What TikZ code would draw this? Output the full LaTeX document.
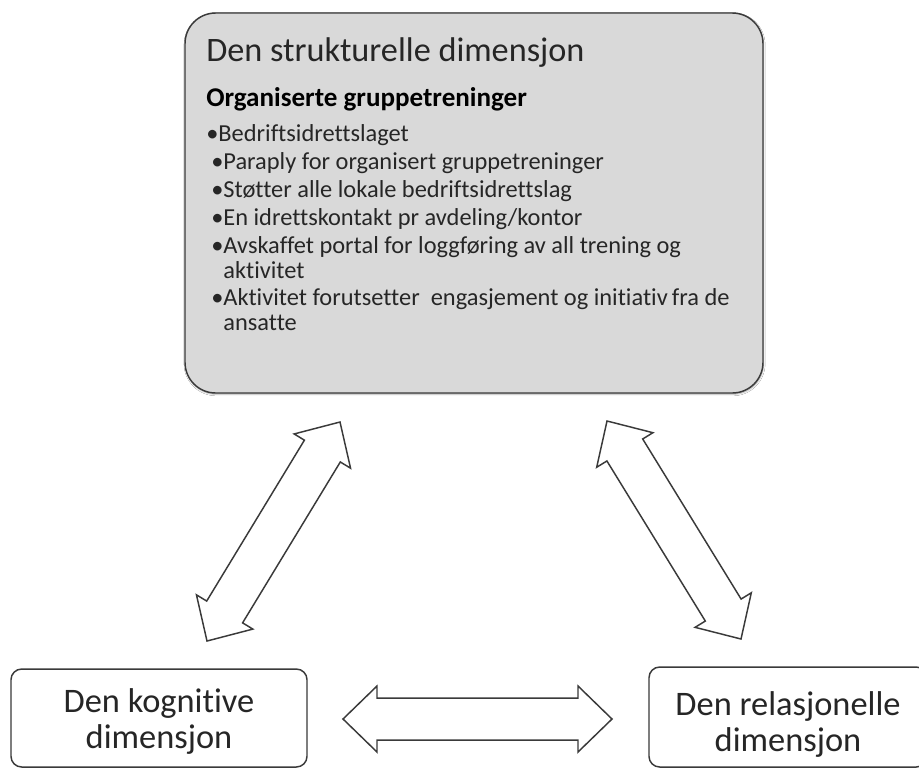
\documentclass[tikz,border=0pt]{standalone}
\usepackage{fontspec}
\setmainfont{Carlito}[Ligatures=NoCommon]
\usetikzlibrary{calc,shadows.blur}

\definecolor{boxgray}{HTML}{D9D9D9}
\definecolor{edge}{HTML}{3A3A3A}
\definecolor{ink}{HTML}{262626}

\tikzset{
  px/.style={x=0.75pt,y=-0.75pt},
  panel/.style={draw=edge, line width=1.1pt, fill=boxgray, rounded corners=23pt,
    inner sep=0pt, minimum width=433.5pt, minimum height=285pt,
    blur shadow={shadow xshift=0.4pt, shadow yshift=-0.9pt, shadow blur radius=1.2pt, shadow opacity=35}},
  dimbox/.style={draw=edge, line width=1.1pt, fill=white, rounded corners=8pt, inner sep=0pt},
  dimtext/.style={anchor=base, inner sep=0pt, text=ink, font=\fontsize{25.8pt}{28pt}\selectfont},
  titletext/.style={anchor=base west, inner sep=0pt, text=ink, font=\fontsize{25.7pt}{28pt}\selectfont},
  headtext/.style={anchor=base west, inner sep=0pt, text=black, font=\fontsize{20.3pt}{24pt}\selectfont\bfseries},
  itemtext/.style={anchor=base west, inner sep=0pt, text=ink, font=\fontsize{18.3pt}{22pt}\selectfont},
  blockarrow/.style={draw=edge, line width=1.1pt, fill=white, line join=miter},
}

% hollow double-headed block arrow between two named points
\newcommand\dblarrow[2]{%
  \coordinate (#1-b) at ($(#1)!25.5pt!(#2)$);
  \coordinate (#2-b) at ($(#2)!25.5pt!(#1)$);
  \draw[blockarrow] (#1)
    -- ($(#1-b)!24.75pt!90:(#2)$) -- ($(#1-b)!15.75pt!90:(#2)$)
    -- ($(#2-b)!15.75pt!-90:(#1)$) -- ($(#2-b)!24.75pt!-90:(#1)$)
    -- (#2)
    -- ($(#2-b)!24.75pt!90:(#1)$) -- ($(#2-b)!15.75pt!90:(#1)$)
    -- ($(#1-b)!15.75pt!-90:(#2)$) -- ($(#1-b)!24.75pt!-90:(#2)$)
    -- cycle;
}

\begin{document}
\begin{tikzpicture}[px]
  \useasboundingbox[fill=white] (0,0) rectangle (919,769);

  % structural dimension panel
  \node[panel] (struct) at (474,203) {};
  \node[titletext] (title) at (206,61) {Den strukturelle dimensjon};
  \node[headtext] (head) at (206,106) {Organiserte gruppetreninger};
  \node[itemtext] (i0) at (206,141) {•Bedriftsidrettslaget};
  \node[itemtext] (i1) at (211,169) {•Paraply for organisert gruppetreninger};
  \node[itemtext] (i2) at (211,197) {•Støtter alle lokale bedriftsidrettslag};
  \node[itemtext] (i3) at (211,225) {•En idrettskontakt pr avdeling/kontor};
  \node[itemtext] (i4) at (211,253) {•Avskaffet portal for loggføring av all trening og};
  \node[itemtext] (i4b) at (211,278) {\phantom{•}aktivitet};
  \node[itemtext] (i5) at (211,305) {•Aktivitet forutsetter\ \ engasjement og initiativ\kern-1pt\ fra de};
  \node[itemtext] (i5b) at (211,330) {\phantom{•}ansatte};

  % lower dimension boxes
  \node[dimbox, minimum width=222pt, minimum height=73.5pt] (kog) at (159,718) {};
  \node[dimtext] (kog1) at (159,712) {Den kognitive};
  \node[dimtext] (kog2) at (159,748) {dimensjon};
  \node[dimbox, minimum width=208.5pt, minimum height=75pt] (rel) at (788,717) {};
  \node[dimtext] (rel1) at (788,715) {Den relasjonelle};
  \node[dimtext] (rel2) at (788,751) {dimensjon};

  % arrow end points
  \coordinate (l1) at (340,422);
  \coordinate (l2) at (207,641);
  \coordinate (r1) at (607,421);
  \coordinate (r2) at (741,639);
  \coordinate (h1) at (343,719);
  \coordinate (h2) at (612,719);

  \dblarrow{l1}{l2}
  \dblarrow{r1}{r2}
  \dblarrow{h1}{h2}
\end{tikzpicture}
\end{document}
